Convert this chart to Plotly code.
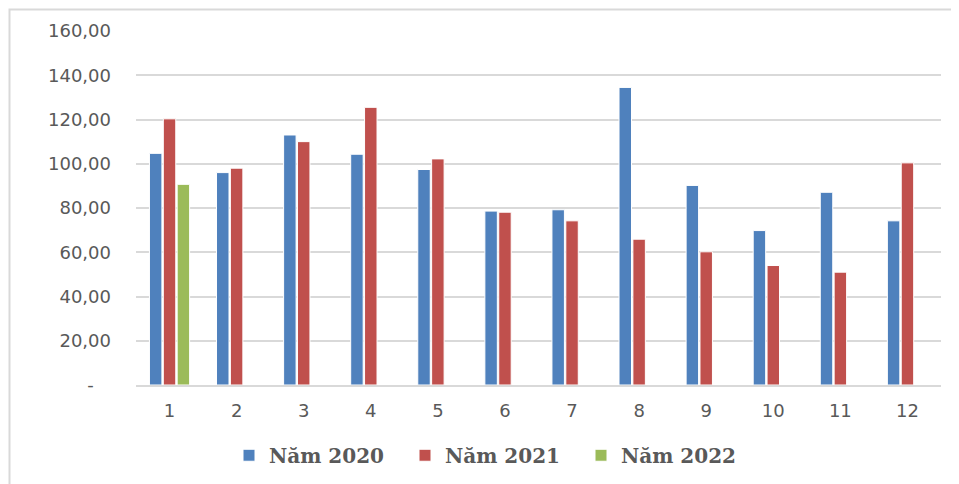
import plotly.graph_objects as go

months = [str(i) for i in range(1, 13)]
nam_2020 = [104.7, 96.0, 113.0, 104.3, 97.4, 78.6, 79.2, 134.5, 90.2, 69.8, 87.1, 74.2]
nam_2021 = [120.3, 98.0, 110.0, 125.5, 102.2, 78.1, 74.2, 65.9, 60.2, 54.0, 51.0, 100.4]
nam_2022 = [90.7]
y_tick_vals = [0, 20, 40, 60, 80, 100, 120, 140, 160]
y_tick_text = ["-\u00a0\u00a0\u00a0", "20,00", "40,00", "60,00", "80,00", "100,00", "120,00", "140,00", "160,00"]

series = [
    ("Năm 2020", nam_2020, "#4F81BD"),
    ("Năm 2021", nam_2021, "#C0504D"),
    ("Năm 2022", nam_2022, "#9BBB59"),
]

fig = go.Figure()
for name, vals, color in series:
    fig.add_trace(go.Bar(
        x=months[:len(vals)], y=vals, name=name,
        marker=dict(color=color, line=dict(color="white", width=1)),
    ))

L, R, T, B = 128, 26, 22.5, 107.3
PW = 959 - L - R
PH = 484 - T - B
zero_y = 484 - B

fig.update_layout(
    width=959, height=484,
    margin=dict(l=L, r=R, t=T, b=B),
    paper_bgcolor="white", plot_bgcolor="white",
    barmode="group", bargap=0.38, bargroupgap=0.1,
    showlegend=True,
    legend=dict(
        orientation="h", x=(221 - L) / PW, xanchor="left",
        y=(zero_y - 447) / PH, yanchor="middle",
        entrywidth=131, entrywidthmode="pixels",
        font=dict(family="DejaVu Serif", size=20, color="#595959", weight="bold"),
        traceorder="normal",
    ),
    xaxis=dict(
        type="category", categoryorder="array", categoryarray=months,
        showgrid=False, showline=True, linecolor="#d9d9d9", linewidth=2,
        ticks="", tickfont=dict(family="DejaVu Sans", size=18, color="#595959"),
        ticklabelstandoff=8,
    ),
    yaxis=dict(
        range=[0, 160], tickvals=y_tick_vals, ticktext=y_tick_text,
        showgrid=True, gridcolor="#d9d9d9", gridwidth=1.5,
        zeroline=False, showline=False, ticks="",
        tickfont=dict(family="DejaVu Sans", size=18, color="#595959"),
        ticklabelstandoff=24,
    ),
    font=dict(family="DejaVu Sans", color="#595959"),
)

fig.add_shape(
    type="rect", xref="paper", yref="paper",
    x0=(1.5 - L) / PW, x1=(1000 - L) / PW,
    y0=(zero_y - 520) / PH, y1=(zero_y - 1) / PH,
    line=dict(color="#d9d9d9", width=2), fillcolor="rgba(0,0,0,0)", layer="below",
)

fig.write_html("out.html")
